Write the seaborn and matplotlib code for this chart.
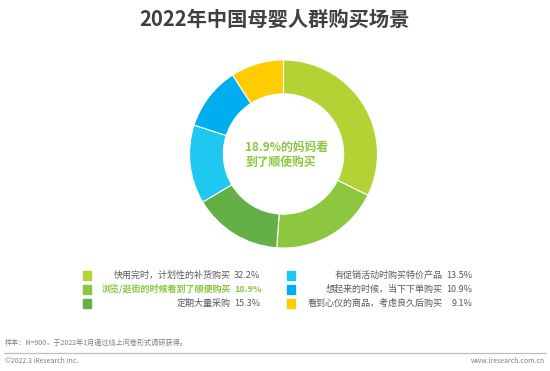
import matplotlib
matplotlib.use('Agg')
import matplotlib.pyplot as plt
import seaborn as sns
from matplotlib.patches import Rectangle
from matplotlib.lines import Line2D

# data
labels = ['快用完时，计划性的补货购买', '浏览/逛街的时候看到了顺便购买', '定期大量采购',
          '有促销活动时购买特价产品', '想起来的时候，当下下单购买', '看到心仪的商品，考虑良久后购买']
shares = [32.2, 18.9, 15.3, 13.5, 10.9, 9.1]
colors = ['#B3D334', '#8DC63F', '#62B046', '#1EC8F0', '#00AEEF', '#FFCC00']

sns.set_theme(style='white')
plt.rcParams['font.family'] = ['Noto Sans CJK SC', 'DejaVu Sans']

W, H = 550, 371
fig = plt.figure(figsize=(W / 100, H / 100), dpi=100)
fig.patch.set_facecolor('white')

def fx(px):
    return px / W

def fy(py):
    return 1 - py / H

cx, cy, r = 283.5, 154, 94
ax = fig.add_axes([fx(cx - r), fy(cy + r), 2 * r / W, 2 * r / H])
ax.pie(shares, colors=colors, startangle=90, counterclock=False, radius=1,
       wedgeprops=dict(width=0.36, edgecolor='white', linewidth=0.8))
ax.set_xlim(-1, 1)
ax.set_ylim(-1, 1)
ax.set_aspect('auto')
ax.axis('off')

green = '#8DC63F'
fig.text(fx(245), fy(147), '18.9%的妈妈看', fontsize=8.5, fontweight='bold', color=green,
         ha='left', va='center')
fig.text(fx(245), fy(162), '到了顺便购买', fontsize=8.5, fontweight='bold', color=green,
         ha='left', va='center')

fig.text(fx(274), fy(19), '2022年中国母婴人群购买场景', fontsize=14.6, fontweight='bold',
         color='#404040', ha='center', va='center')

# legend
rows_y = [275, 289, 303]
text_c = '#595959'
for i in range(3):
    y = rows_y[i]
    bold = i == 1
    c = green if bold else text_c
    fig.patches.append(Rectangle((fx(83), fy(y + 4.5)), 8 / W, 9 / H, color=colors[i],
                                 transform=fig.transFigure, figure=fig))
    fig.text(fx(231), fy(y), labels[i], fontsize=6.5, color=c, ha='right', va='center',
             fontweight='bold' if bold else 'normal')
    fig.text(fx(234), fy(y), f'{shares[i]}%', fontsize=6.5, color=c, ha='left', va='center',
             fontweight='bold' if bold else 'normal')

    j = i + 3
    fig.patches.append(Rectangle((fx(287), fy(y + 4.5)), 8 / W, 9 / H, color=colors[j],
                                 transform=fig.transFigure, figure=fig))
    fig.text(fx(443), fy(y), labels[j], fontsize=6.5, color=text_c, ha='right', va='center')
    fig.text(fx(472), fy(y), f'{shares[j]}%', fontsize=6.5, color=text_c, ha='right', va='center')

fig.text(fx(5), fy(343), '样本：N=900，于2022年1月通过线上问卷形式调研获得。', fontsize=5.1,
         color='#7F7F7F', ha='left', va='center')
fig.lines.append(Line2D([fx(4), fx(546)], [fy(352.5), fy(352.5)], color='#BFBFBF', lw=0.9,
                        transform=fig.transFigure, figure=fig))
fig.text(fx(5), fy(361), '©2022.3 iResearch Inc.', fontsize=5.0, color='#7F7F7F',
         ha='left', va='center')
fig.text(fx(545), fy(361), 'www.iresearch.com.cn', fontsize=5.0, color='#7F7F7F',
         ha='right', va='center')

fig.savefig('out.png', dpi=100, facecolor='white')
